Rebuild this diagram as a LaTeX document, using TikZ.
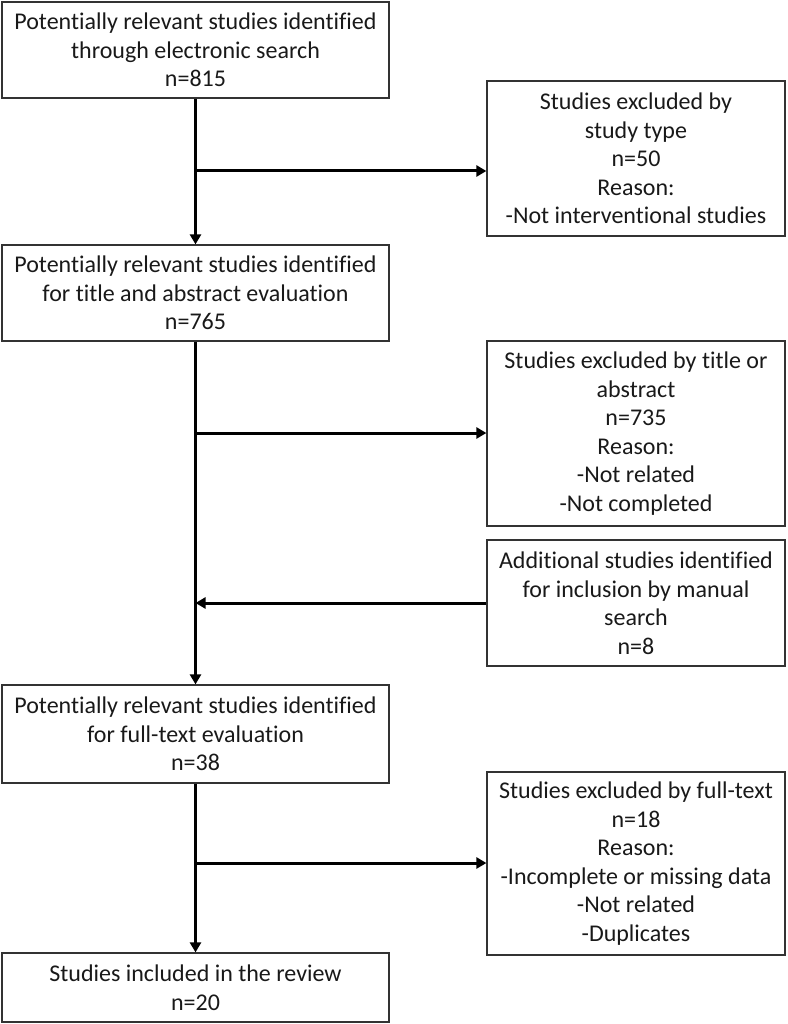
\documentclass[tikz,border=0pt]{standalone}
\usepackage{fontspec}
\setmainfont{Carlito}[Ligatures=NoCommon]
\usetikzlibrary{arrows.meta}
\begin{document}
\begin{tikzpicture}[x=1pt,y=-1pt,
  box/.style={draw=black!80, line width=1.2pt, align=center, inner sep=0pt, text=black!90,
    font=\fontsize{24}{28.5}\selectfont},
  lbox/.style={box, minimum width=387pt},
  rbox/.style={box, minimum width=298pt},
  flow/.style={line width=3pt, draw=black, -{Triangle[length=10pt,width=11pt]}}]
\useasboundingbox (0,0) rectangle (787,1024);
\node[lbox, minimum height=96pt] (b1) at (195.5,50) {Potentially relevant studies identified\\through electronic search\\n=815};
\node[lbox, minimum height=96pt] (b2) at (195.5,293) {Potentially relevant studies identified\\for title and abstract evaluation\\n=765};
\node[lbox, minimum height=98pt] (b3) at (195.5,734) {Potentially relevant studies identified\\for full-text evaluation\\n=38};
\node[lbox, minimum height=69pt] (b4) at (195.5,987.5) {Studies included in the review\\n=20};
\node[rbox, minimum height=155pt] (r1) at (636,158.5) {Studies excluded by\\study type\\n=50\\Reason:\\-Not interventional studies};
\node[rbox, minimum height=185pt] (r2) at (636,433.5) {Studies excluded by title or\\abstract\\n=735\\Reason:\\-Not related\\-Not completed};
\node[rbox, minimum height=126pt] (r3) at (636,603) {Additional studies identified\\for inclusion by manual\\search\\n=8};
\node[rbox, minimum height=183pt] (r4) at (636,863.5) {Studies excluded by full-text\\n=18\\Reason:\\-Incomplete or missing data\\-Not related\\-Duplicates};
\coordinate (j1) at (195.5,171);
\coordinate (j2) at (195.5,433);
\coordinate (j4) at (195.5,863);
\draw[flow] (b1.south) -- (b2.north);
\draw[flow] (b2.south) -- (b3.north);
\draw[flow] (b3.south) -- (b4.north);
\draw[flow] (j1) -- (j1 -| r1.west);
\draw[flow] (j2) -- (j2 -| r2.west);
\draw[flow] (r3.west) -- (r3.west -| b2.south);
\draw[flow] (j4) -- (j4 -| r4.west);
\end{tikzpicture}
\end{document}
